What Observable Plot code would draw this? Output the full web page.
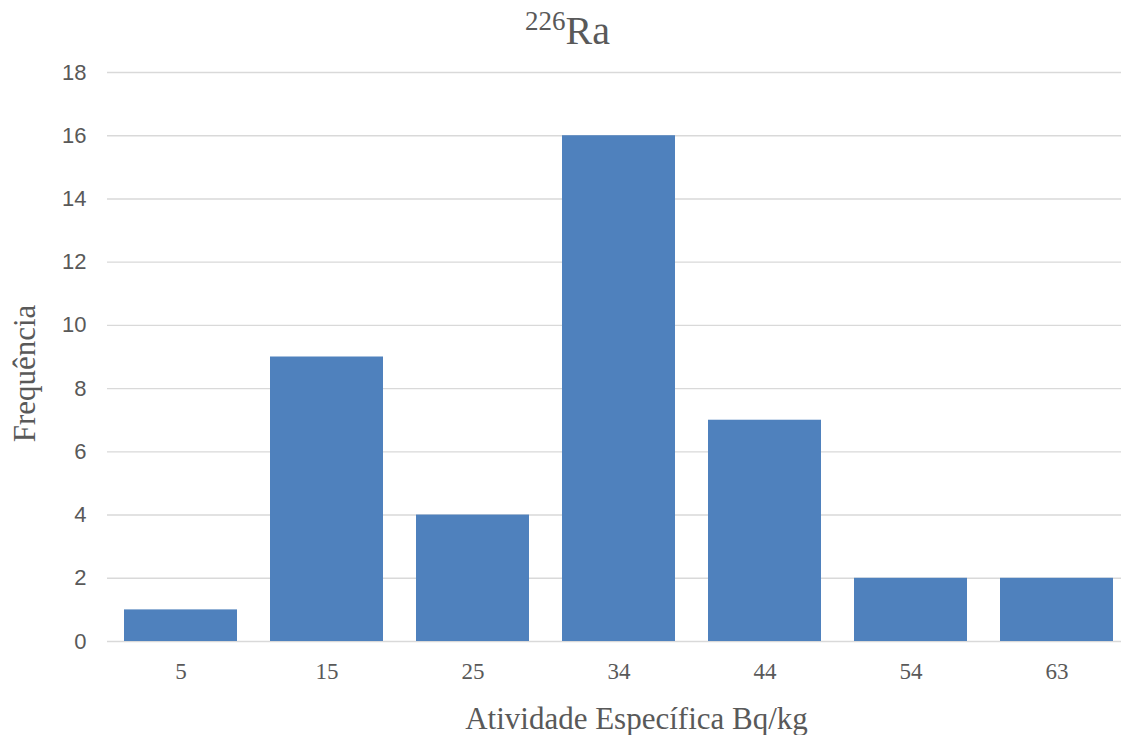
<!DOCTYPE html>
<html>
<head>
<meta charset="utf-8">
<script src="https://cdn.jsdelivr.net/npm/d3@7"></script>
<script src="https://cdn.jsdelivr.net/npm/@observablehq/plot@0.6"></script>
<style>
  html, body { margin: 0; padding: 0; background: #fff; }
  #wrap { width: 1121px; height: 735px; overflow: hidden; }
  #title { position: relative; height: 55px; width: 1121px; font-family: "Liberation Serif", "Times New Roman", serif; color: #595959; }
  #title span.t { position: absolute; left: 525px; top: 11px; font-size: 40px; line-height: 40px; white-space: nowrap; }
  #title sup { font-size: 27px; vertical-align: 14px; line-height: 0; }
</style>
</head>
<body>
<div id="wrap">
  <div id="title"><span class="t"><sup>226</sup>Ra</span></div>
  <div id="chart"></div>
</div>
<script>
const categories = ["5", "15", "25", "34", "44", "54", "63"];
const frequencies = [1, 9, 4, 16, 7, 2, 2];
const yTicks = [0, 2, 4, 6, 8, 10, 12, 14, 16, 18];
const xLabel = "Atividade Específica Bq/kg";
const yLabel = "Frequência";

const data = categories.map((c, i) => ({bin: c, freq: frequencies[i]}));

const serif = "'Liberation Serif', 'Times New Roman', serif";
const sans = "'Liberation Sans', Arial, sans-serif";
const grey = "#595959";

const chart = Plot.plot({
  width: 1121,
  height: 680,
  marginTop: 17,
  marginBottom: 94,
  marginLeft: 107,
  marginRight: 0,
  style: {background: "#fff", fontFamily: serif},
  x: {type: "band", domain: categories, range: [106.5, 1130], paddingInner: 0.227, paddingOuter: 0.1135, label: null},
  y: {domain: [0, 18], ticks: yTicks, label: null},
  marks: [
    Plot.ruleY(yTicks, {stroke: "#D9D9D9", strokeWidth: 1.4}),
    Plot.barY(data, {x: "bin", y: "freq", fill: "#4F81BD"}),
    Plot.axisY(yTicks, {tickSize: 0, tickPadding: 21, fontSize: 22, fill: grey, label: null}),
    Plot.axisX({tickSize: 0, tickPadding: 21, fontSize: 23, fill: grey, label: null}),
    Plot.text([xLabel], {frameAnchor: "bottom", textAnchor: "middle", lineAnchor: "bottom", dx: 22, dy: 87, fontSize: 31, fill: grey}),
    Plot.text([yLabel], {frameAnchor: "left", textAnchor: "middle", lineAnchor: "bottom", rotate: -90, dx: -73, dy: 16.5, fontSize: 31, fill: grey})
  ]
});
// font families applied as inline styles so they take precedence
d3.select(chart).selectAll("text").style("font-family", serif);
d3.select(chart).selectAll("g[aria-label='y-axis tick label'] text").style("font-family", sans);
document.getElementById("chart").appendChild(chart);
</script>
</body>
</html>
